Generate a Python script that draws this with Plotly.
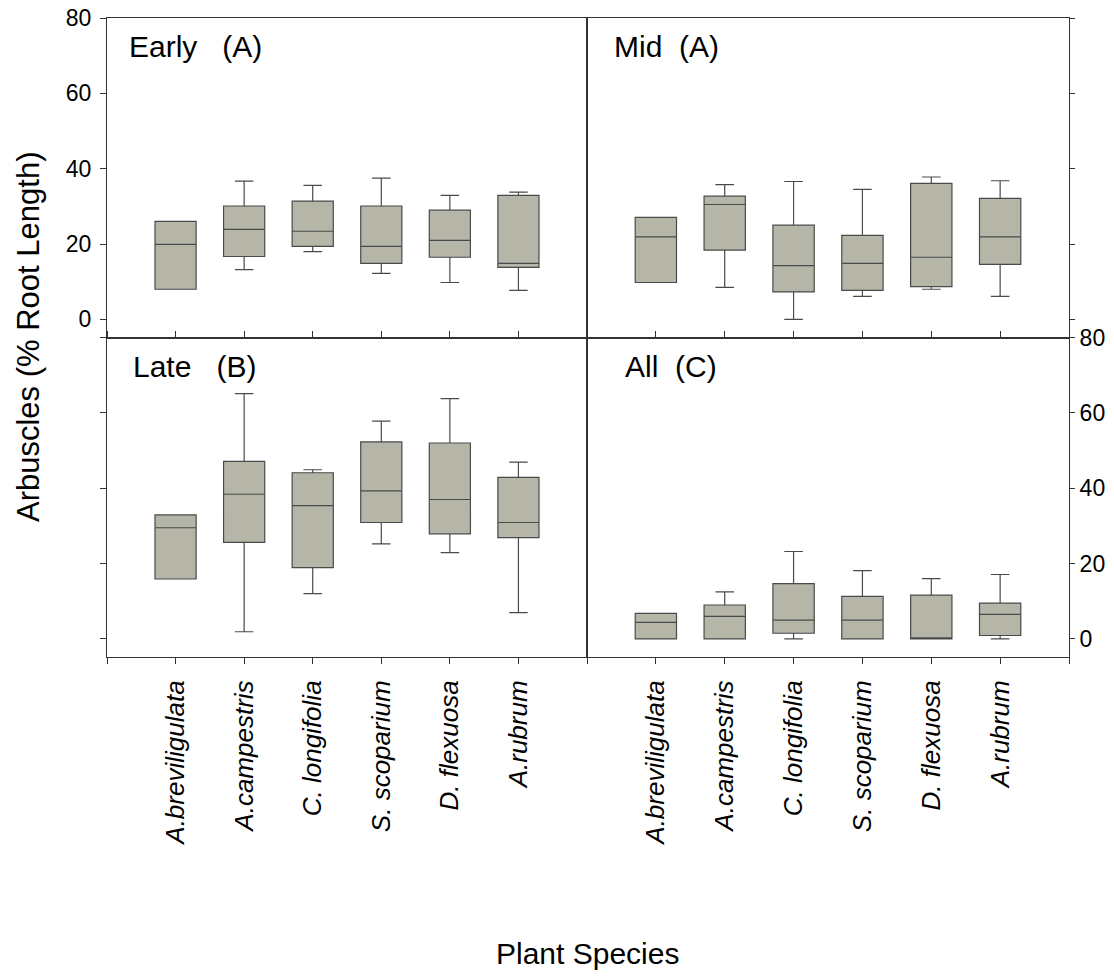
import plotly.graph_objects as go

species = ["A.breviligulata", "A.campestris", "C. longifolia", "S. scoparium", "D. flexuosa", "A.rubrum"]

# Early (A)
early_low = [8.0, 13.2, 18.0, 12.2, 9.8, 7.7]
early_q1 = [8.0, 16.7, 19.4, 14.9, 16.5, 13.8]
early_med = [19.9, 23.9, 23.4, 19.4, 21.0, 14.9]
early_q3 = [26.0, 30.1, 31.4, 30.1, 29.0, 32.9]
early_high = [26.0, 36.7, 35.6, 37.5, 32.9, 33.8]

# Mid (A)
mid_low = [9.8, 8.5, 0.0, 6.1, 8.0, 6.1]
mid_q1 = [9.8, 18.4, 7.3, 7.7, 8.7, 14.6]
mid_med = [21.9, 30.5, 14.3, 14.9, 16.5, 21.9]
mid_q3 = [27.1, 32.7, 25.0, 22.3, 36.1, 32.1]
mid_high = [27.1, 35.8, 36.6, 34.5, 37.8, 36.8]

# Late (B)
late_low = [15.9, 1.9, 12.0, 25.2, 22.9, 7.0]
late_q1 = [15.9, 25.6, 18.9, 30.9, 27.9, 26.9]
late_med = [29.5, 38.4, 35.4, 39.3, 37.0, 30.9]
late_q3 = [32.9, 47.1, 44.1, 52.3, 52.0, 42.9]
late_high = [32.9, 65.1, 44.9, 57.8, 63.8, 46.9]

# All (C)
all_low = [0.0, 0.0, 0.0, 0.0, 0.0, 0.0]
all_q1 = [0.0, 0.0, 1.5, 0.0, 0.0, 0.9]
all_med = [4.4, 6.0, 5.0, 5.0, 0.0, 6.5]
all_q3 = [6.8, 9.0, 14.7, 11.3, 11.6, 9.5]
all_high = [6.8, 12.5, 23.2, 18.1, 16.0, 17.1]

y_ticks = [0, 20, 40, 60, 80]

panels = [
    (early_low, early_q1, early_med, early_q3, early_high, "x", "y"),
    (mid_low, mid_q1, mid_med, mid_q3, mid_high, "x2", "y2"),
    (late_low, late_q1, late_med, late_q3, late_high, "x3", "y3"),
    (all_low, all_q1, all_med, all_q3, all_high, "x4", "y4"),
]

FONT = "Liberation Sans, Arial, sans-serif"
fig = go.Figure()
xpos = list(range(len(species)))
for lo, q1, med, q3, hi, xa, ya in panels:
    fig.add_trace(go.Box(
        x=xpos, q1=q1, median=med, q3=q3, lowerfence=lo, upperfence=hi,
        xaxis=xa, yaxis=ya, width=0.6, whiskerwidth=0.45,
        fillcolor="#b5b5a8", line=dict(color="#4a4a4a", width=1.2),
        boxpoints=False, showlegend=False, hoverinfo="skip",
    ))

PW, PH = 1114, 979
plot_w, plot_h = 962, 639
ml, mt = 107, 18
mr = PW - ml - plot_w
mb = PH - mt - plot_h

split_x = 480 / plot_w
split_y = 0.5
tickvals_x = [-1] + xpos + [len(species)]
ticktext_x = [""] + [f"<i>{s}</i>" for s in species] + [""]

common_x = dict(range=[-1, len(species)], tickvals=tickvals_x, ticktext=ticktext_x,
                showline=True, linecolor="#333", linewidth=1, ticks="outside", ticklen=6,
                tickcolor="#333", showgrid=False, zeroline=False, automargin=False)
common_y = dict(range=[-4.8, 80], tickvals=y_ticks, showline=True,
                linecolor="#333", linewidth=1, ticks="outside", ticklen=6,
                tickcolor="#333", showgrid=False, zeroline=False, automargin=False,
                ticklabeloverflow="allow",
                tickfont=dict(size=23, family=FONT, color="#000"), ticklabelstandoff=4)
cat_font = dict(size=26, family=FONT, color="#000")

fig.update_layout(
    width=PW, height=PH,
    margin=dict(l=ml, r=mr, t=mt, b=mb),
    paper_bgcolor="white", plot_bgcolor="white",
    font=dict(family=FONT, color="#000"),
    xaxis=dict(common_x, domain=[0, split_x], anchor="y", showticklabels=False, mirror=True, ticks=""),
    yaxis=dict(common_y, domain=[split_y, 1], anchor="x", mirror=True),
    xaxis2=dict(common_x, domain=[split_x, 1], anchor="y2", showticklabels=False, mirror=True, ticks=""),
    yaxis2=dict(common_y, domain=[split_y, 1], anchor="x2", side="right", showticklabels=False,
                mirror=True, ticklen=5),
    xaxis3=dict(common_x, domain=[0, split_x], anchor="y3", showticklabels=True, mirror="ticks",
                tickangle=-90, tickfont=cat_font, ticklabelstandoff=6),
    yaxis3=dict(common_y, domain=[0, split_y], anchor="x3", showticklabels=False, mirror=True),
    xaxis4=dict(common_x, domain=[split_x, 1], anchor="y4", showticklabels=True, mirror="ticks",
                tickangle=-90, tickfont=cat_font, ticklabelstandoff=6),
    yaxis4=dict(common_y, domain=[0, split_y], anchor="x4", side="right", showticklabels=True,
                mirror=True, ticklen=5, ticklabelstandoff=0),
)

labels = [("Early   (A)", "x domain", "y domain", 0.042),
          ("Mid  (A)", "x2 domain", "y2 domain", 0.052),
          ("Late   (B)", "x3 domain", "y3 domain", 0.05),
          ("All  (C)", "x4 domain", "y4 domain", 0.075)]
for txt, xr, yr, xx in labels:
    fig.add_annotation(text=txt, xref=xr, yref=yr, x=xx, y=0.968, xanchor="left", yanchor="top",
                       showarrow=False, font=dict(size=30, family=FONT, color="#000"))

fig.add_annotation(text="Arbuscles (% Root Length)", xref="paper", yref="paper",
                   x=-79 / plot_w, y=(657 - 337) / plot_h, xanchor="center", yanchor="middle",
                   textangle=-90, showarrow=False, font=dict(size=31, family=FONT, color="#000"))
fig.add_annotation(text="Plant Species", xref="paper", yref="paper",
                   x=(587 - 107) / plot_w, y=-(953 - 657) / plot_h, xanchor="center", yanchor="middle",
                   showarrow=False, font=dict(size=30, family=FONT, color="#000"))

fig.write_html("out.html", config={"displayModeBar": False},
               post_script="document.body.style.margin='0';document.body.style.overflow='hidden';")
